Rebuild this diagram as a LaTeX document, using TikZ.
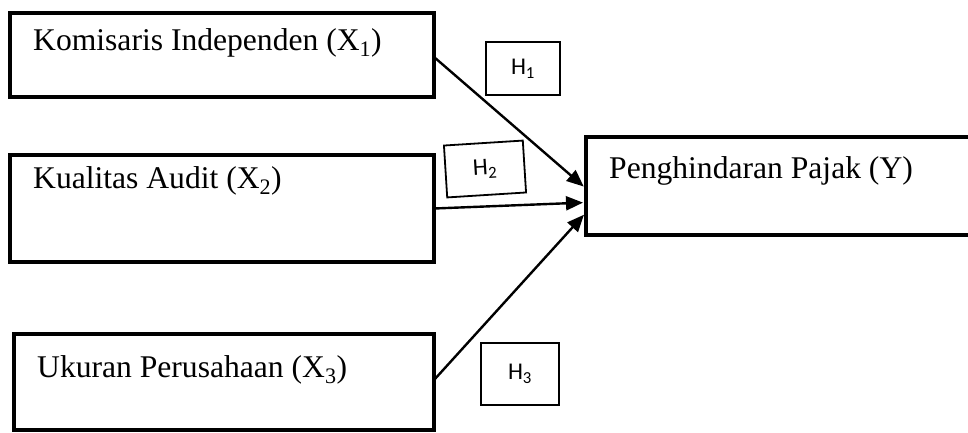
\documentclass[tikz,border=0pt]{standalone}
\usepackage{fontspec}
\setmainfont{Liberation Serif}
\newfontfamily\hfont{Carlito}
\usetikzlibrary{arrows.meta}

\tikzset{
  varbox/.style={draw, line width=4.5pt, minimum width=#1, inner sep=0pt, outer sep=0pt},
  vartext/.style={anchor=base west, inner sep=0pt,
    font=\fontsize{31.6}{36}\selectfont},
  hypbox/.style={draw, line width=1.8pt, inner sep=0pt,
    font=\hfont\fontsize{24}{28}\selectfont},
  link/.style={line width=2.4pt, shorten >=3pt,
    -{Triangle[length=17pt,width=14pt]}}
}

\begin{document}
\begin{tikzpicture}[x=1pt, y=-1pt]
  \clip (0,0) rectangle (968,432);

  % independent variables
  \node[varbox=424pt, minimum height=84pt]  (b1) at (222,55)    {};
  \node[varbox=424pt, minimum height=107pt] (b2) at (222,208.5) {};
  \node[varbox=420pt, minimum height=96pt]  (b3) at (224,382)   {};
  % dependent variable (runs past the right edge)
  \node[varbox=389pt, minimum height=98pt]  (by) at (780.5,186) {};

  \node[vartext] (t1) at (33,50)  {Komisaris Independen (X\textsubscript{1})};
  \node[vartext] (t2) at (33,188) {Kualitas Audit (X\textsubscript{2})};
  \node[vartext] (t3) at (37,377) {Ukuran Perusahaan (X\textsubscript{3})};
  \node[vartext] (ty) at (609,178) {Penghindaran Pajak (Y)};

  % hypothesis labels
  \node[hypbox, minimum width=74pt, minimum height=53pt] (h1) at (523,68.5) {H\textsubscript{1}};
  \node[hypbox, minimum width=79pt, minimum height=52pt, rotate=3.6] (h2) at (485,169) {H\textsubscript{2}};
  \node[hypbox, minimum width=78pt, minimum height=62pt] (h3) at (520,374) {H\textsubscript{3}};

  % paths
  \draw[link] ([yshift=-2pt]b1.east)  -- ([yshift=-2.5pt]by.west);
  \draw[link] (b2.east)               -- ([yshift=-16.5pt]by.west);
  \draw[link] ([yshift=2pt]b3.east)   -- ([yshift=-26.5pt]by.west);
\end{tikzpicture}
\end{document}
